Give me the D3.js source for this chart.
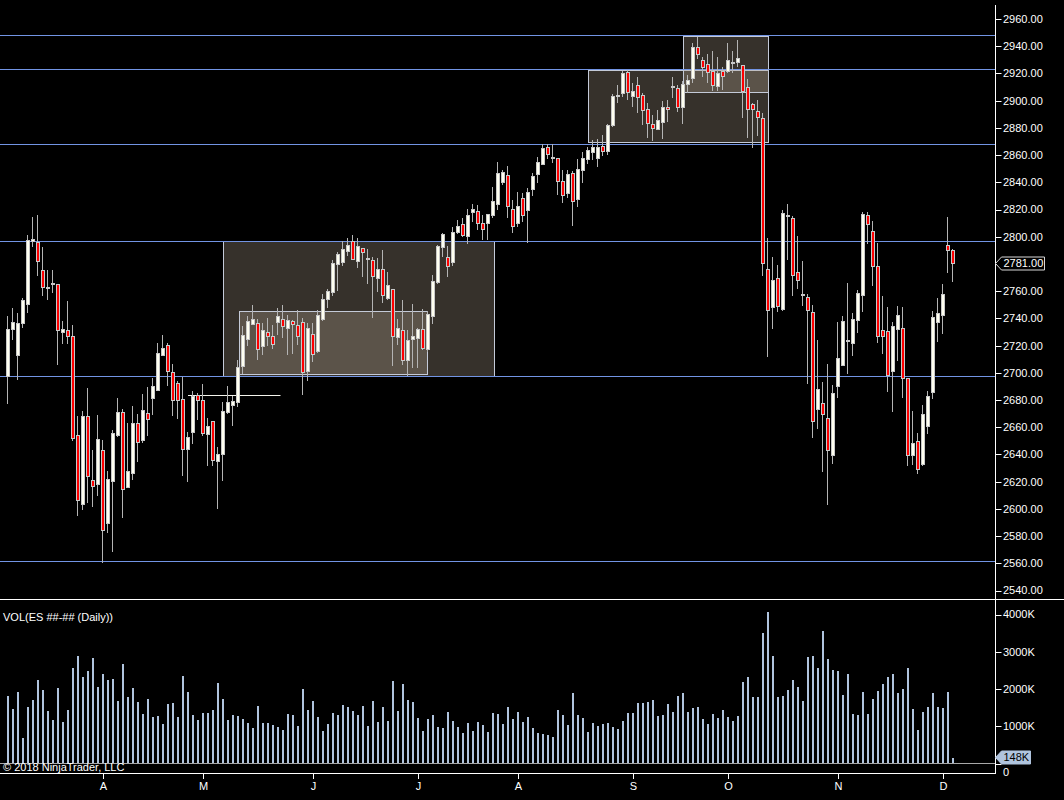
<!DOCTYPE html>
<html>
<head>
<meta charset="utf-8">
<script src="https://cdn.jsdelivr.net/npm/d3@7.9.0/dist/d3.min.js"></script>
<style>
  body { margin: 0; background: #000; }
  svg { display: block; font-family: "Liberation Sans", Arial, sans-serif; }
</style>
</head>
<body>
<svg id="chart" width="1064" height="800"></svg>
<script>
// daily ES bars, Mar -> Dec 2018
const opens = [2697.4,2732.5,2713.4,2736.7,2750.9,2797.0,2795.8,2775.9,2763.3,2766.3,
2764.9,2730.3,2731.8,2726.9,2654.5,2603.8,2668.5,2621.4,2618.5,2643.5,
2589.6,2620.7,2654.5,2671.4,2616.0,2626.6,2663.3,2650.8,2670.7,2681.7,
2687.6,2713.4,2720.7,2700.9,2692.3,2680.8,2644.2,2656.5,2683.9,2679.8,
2655.3,2664.3,2635.4,2640.5,2671.2,2676.6,2678.6,2704.8,2725.1,2736.1,
2736.9,2719.7,2730.3,2727.3,2737.4,2739.8,2733.2,2738.1,2735.2,2737.6,
2701.3,2728.8,2716.0,2739.6,2754.3,2759.4,2780.3,2781.5,2789.6,2796.9,
2782.2,2792.0,2784.6,2783.2,2770.0,2776.6,2755.0,2761.9,2726.3,2731.7,
2709.6,2724.9,2725.8,2732.5,2717.8,2742.0,2766.8,2792.5,2785.2,2781.5,
2803.1,2809.7,2800.6,2817.8,2819.0,2810.4,2810.2,2815.6,2824.4,2839.9,
2845.0,2820.7,2810.2,2828.8,2819.3,2835.2,2846.2,2853.6,2865.6,2858.7,
2857.5,2840.6,2831.8,2846.5,2827.4,2848.7,2856.8,2861.9,2858.2,2866.3,
2863.1,2882.0,2903.8,2905.3,2920.8,2903.3,2911.2,2903.8,2893.5,2882.5,
2878.8,2884.5,2895.0,2910.7,2909.0,2895.5,2912.2,2916.3,2939.1,2929.8,
2926.9,2922.0,2910.9,2922.0,2922.0,2928.6,2928.6,2926.2,2909.7,2897.5,
2892.1,2886.9,2776.3,2748.4,2770.0,2746.9,2816.3,2813.4,2774.1,2758.2,
2755.7,2745.0,2673.6,2677.8,2667.0,2639.3,2690.5,2705.5,2723.9,2722.2,
2739.1,2756.8,2815.9,2804.1,2778.8,2731.8,2731.0,2701.6,2732.0,2733.2,
2696.5,2639.8,2649.9,2633.2,2661.1,2685.9,2737.6,2742.1,2793.6,2789.9];

const highs = [2741.6,2747.9,2744.3,2754.6,2801.2,2814.6,2815.9,2792.1,2775.9,2775.4,
2764.9,2737.9,2752.6,2735.0,2668.0,2671.9,2688.6,2643.0,2668.8,2650.4,
2627.6,2658.2,2681.3,2673.2,2663.1,2675.4,2670.0,2684.2,2689.6,2696.5,
2722.2,2727.6,2722.2,2706.8,2693.8,2697.0,2656.5,2686.4,2685.2,2691.6,
2667.0,2664.3,2645.2,2678.6,2690.6,2682.7,2709.2,2734.5,2742.0,2750.1,
2739.8,2736.6,2740.6,2735.4,2747.9,2750.1,2742.8,2738.6,2746.4,2740.6,
2736.6,2736.9,2746.0,2758.2,2761.9,2783.2,2788.9,2796.9,2799.4,2801.1,
2798.7,2792.0,2791.3,2785.2,2784.0,2790.1,2774.1,2761.9,2739.8,2753.3,
2731.2,2750.4,2733.2,2746.7,2745.5,2771.7,2793.8,2802.8,2793.0,2806.8,
2812.2,2814.1,2820.7,2823.9,2823.2,2815.8,2817.0,2836.6,2854.6,2848.9,
2851.9,2826.9,2833.0,2831.8,2835.9,2846.5,2858.7,2868.0,2868.5,2868.0,
2857.5,2848.9,2848.9,2848.2,2856.8,2862.4,2865.6,2871.0,2871.5,2874.7,
2882.8,2904.6,2911.4,2921.7,2922.5,2912.7,2917.6,2905.3,2898.0,2889.4,
2893.1,2899.7,2900.4,2917.6,2911.4,2914.4,2918.6,2942.1,2947.0,2932.3,
2934.2,2936.5,2932.3,2924.9,2942.6,2936.5,2944.5,2926.2,2915.9,2898.0,
2900.4,2891.0,2798.7,2785.2,2779.1,2819.5,2824.4,2815.1,2800.4,2782.0,
2758.2,2750.1,2723.9,2693.2,2706.7,2690.8,2737.4,2741.5,2766.3,2744.0,
2761.1,2817.8,2817.8,2811.5,2795.5,2756.3,2748.2,2737.2,2748.9,2748.2,
2696.5,2671.7,2656.0,2676.1,2686.9,2745.2,2755.1,2765.1,2814.6,2791.3];

const lows = [2677.3,2723.9,2694.5,2733.0,2744.0,2792.6,2771.0,2756.3,2753.8,2758.7,
2705.8,2721.0,2721.5,2649.9,2594.7,2599.3,2604.3,2601.3,2609.4,2560.4,
2582.2,2568.2,2652.8,2593.2,2616.0,2620.9,2634.4,2648.4,2653.3,2668.8,
2687.1,2712.1,2690.3,2668.0,2665.8,2623.9,2619.7,2647.4,2665.6,2653.3,
2631.5,2631.5,2599.8,2620.4,2670.0,2660.9,2674.9,2699.4,2720.0,2734.9,
2709.2,2712.8,2719.5,2717.8,2727.6,2725.8,2712.8,2714.1,2720.2,2683.4,
2694.0,2707.9,2714.6,2737.9,2747.9,2756.2,2759.9,2778.6,2785.9,2782.7,
2777.1,2770.5,2765.6,2740.3,2759.4,2751.3,2753.3,2705.0,2720.2,2705.5,
2697.6,2703.5,2703.5,2716.5,2715.3,2735.7,2765.6,2785.2,2770.5,2778.6,
2801.9,2799.9,2794.5,2810.9,2805.3,2797.4,2797.4,2814.1,2819.5,2837.9,
2813.4,2802.8,2807.2,2810.9,2795.5,2829.8,2839.6,2853.1,2856.8,2854.3,
2830.5,2824.9,2828.1,2808.0,2822.0,2839.6,2853.8,2856.3,2850.9,2859.5,
2860.0,2880.8,2898.0,2902.9,2900.4,2895.5,2890.6,2882.0,2872.9,2870.2,
2878.3,2871.5,2884.5,2901.6,2891.8,2882.8,2905.8,2912.7,2930.3,2917.6,
2912.7,2907.3,2907.3,2907.8,2920.0,2920.0,2924.9,2886.9,2872.9,2865.3,
2873.9,2771.2,2711.6,2732.5,2744.7,2745.5,2782.7,2756.5,2761.4,2748.9,
2692.0,2652.3,2658.9,2627.0,2602.5,2632.7,2681.7,2704.7,2698.9,2712.1,
2729.3,2744.8,2795.0,2763.9,2721.9,2714.1,2685.9,2671.2,2708.7,2681.5,
2631.5,2632.0,2625.8,2631.2,2655.3,2680.5,2722.7,2728.3,2773.4,2766.8];

const closes = [2732.5,2737.4,2736.7,2753.3,2797.5,2798.0,2781.8,2762.7,2763.3,2764.9,
2731.8,2732.5,2726.9,2652.3,2606.7,2668.5,2624.4,2616.5,2651.6,2584.2,
2622.2,2656.0,2670.9,2614.8,2628.0,2663.3,2649.4,2672.9,2666.3,2690.6,
2714.8,2718.5,2701.6,2680.3,2680.3,2644.2,2653.1,2683.0,2680.3,2656.0,
2660.9,2636.1,2640.5,2671.7,2678.8,2679.0,2704.3,2727.6,2738.1,2739.6,
2717.8,2731.7,2727.3,2721.4,2741.8,2734.7,2739.1,2736.1,2726.8,2700.6,
2733.2,2714.1,2742.8,2754.5,2760.4,2781.0,2787.6,2791.3,2793.8,2783.7,
2793.5,2788.9,2784.6,2771.2,2776.6,2757.5,2764.3,2727.1,2733.2,2709.6,
2724.4,2726.8,2732.5,2718.5,2743.5,2767.5,2793.0,2801.9,2778.8,2803.1,
2808.0,2801.6,2816.3,2820.7,2810.4,2805.8,2817.0,2826.1,2846.5,2847.2,
2822.4,2808.2,2822.4,2815.6,2833.2,2844.5,2854.6,2864.9,2860.5,2858.7,
2841.3,2830.3,2846.0,2825.9,2849.4,2857.5,2863.6,2866.1,2866.1,2862.7,
2882.0,2903.3,2903.8,2920.0,2906.5,2907.0,2902.9,2892.8,2883.7,2879.6,
2885.5,2895.0,2893.5,2910.7,2895.5,2912.2,2915.1,2939.1,2934.0,2924.9,
2921.2,2911.4,2920.0,2918.3,2929.6,2928.6,2931.1,2907.3,2893.5,2893.5,
2888.2,2781.0,2745.9,2768.5,2748.9,2817.5,2816.3,2772.2,2768.0,2757.0,
2746.4,2664.3,2688.3,2669.4,2643.4,2685.4,2711.1,2737.8,2723.9,2739.3,
2758.9,2816.6,2809.0,2778.8,2727.3,2727.3,2698.7,2734.7,2742.8,2696.5,
2639.8,2648.6,2629.5,2670.0,2683.2,2741.3,2744.3,2758.2,2790.6,2781.0];

// volume in thousands of contracts
const volumes = [1818,1476,1908,693,1530,1692,2250,1962,1422,1179,
2016,1116,1440,2574,2898,2331,2475,2844,2061,2412,
2250,2277,1665,2664,1791,2034,1656,1332,1737,1251,
1278,1062,1602,1629,1251,2358,1926,1305,1170,1359,
1359,1440,2169,1737,1170,1305,1278,1197,1089,954,
1548,1089,1089,1035,981,900,1332,1305,1008,2007,
1440,1683,1251,873,1062,1359,1305,1575,1521,1413,
1305,1548,1008,1683,1116,1521,1143,2223,1413,2142,
1710,1656,1224,873,1197,1305,981,954,1386,1143,
981,819,1089,873,1116,1035,846,1359,1332,1062,
1521,1197,1386,1116,1251,954,819,792,765,711,
1440,1305,1035,1899,1305,1224,846,1089,1008,1062,
1089,981,927,1143,1359,1359,1629,1629,1656,1710,
1278,1305,1602,1386,1818,1899,1386,1494,1521,1197,
1062,1332,1224,1440,1251,1143,1278,2196,2331,1791,
1791,3492,4059,2898,1791,1818,1980,2250,2061,1683,
2871,2898,2574,3546,2817,2520,2493,1845,2412,1332,
1305,1926,1332,1737,1953,2142,2331,2412,1899,2007,
2574,1467,900,1386,1521,1899,1521,1494,1926,148];

const monthTicks = [19, 39, 61, 82, 102, 125, 144, 166, 187];
const monthLabels = ['A', 'M', 'J', 'J', 'A', 'S', 'O', 'N', 'D'];
const priceTicks = d3.range(2540, 2961, 20);
const volumeTicks = [0, 1000, 2000, 3000, 4000];

// drawing objects: horizontal levels, boxes and one short line
const levels = [2948, 2923, 2868.1, 2796.7, 2697.4, 2561.7];
const zoneStart = [43, 46.2, 116, 135];
const zoneEnd = [97.2, 83.7, 152, 152];
const zoneTop = [2796.9, 2745.2, 2922.5, 2947.5];
const zoneBottom = [2697.4, 2698.6, 2869.7, 2906.1];
const segStart = 36, segEnd = 54.5, segPrice = 2683.4;

const axisX = 995.5;
const bars = opens.map((o, i) => ({ i, o, h: highs[i], l: lows[i], c: closes[i], v: volumes[i] }));

const x = d3.scaleLinear().domain([0, bars.length - 1]).range([8, 953]);
const y = d3.scaleLinear().domain([2540, 2960]).range([590.5, 19]);
const yv = d3.scaleLinear().domain([0, 4000]).range([763.5, 614.5]);

const svg = d3.select('#chart');
svg.append('rect').attr('width', 1064).attr('height', 800).attr('fill', '#000');

// boxes sit behind everything
svg.append('g').selectAll('rect')
  .data(zoneStart)
  .join('rect')
  .attr('x', (d, k) => Math.round(x(d)) + 0.5)
  .attr('y', (d, k) => Math.round(y(zoneTop[k])) + 0.5)
  .attr('width', (d, k) => Math.round(x(zoneEnd[k]) - x(d)))
  .attr('height', (d, k) => Math.round(y(zoneBottom[k]) - y(zoneTop[k])))
  .attr('fill', '#b4a290')
  .attr('fill-opacity', 0.3)
  .attr('stroke', '#c4cad8')
  .attr('stroke-width', 1);

svg.append('g').selectAll('line')
  .data(levels)
  .join('line')
  .attr('x1', 0).attr('x2', axisX)
  .attr('y1', d => Math.round(y(d)) + 0.5)
  .attr('y2', d => Math.round(y(d)) + 0.5)
  .attr('stroke', '#7294e4');

svg.append('line')
  .attr('x1', x(segStart)).attr('x2', x(segEnd))
  .attr('y1', Math.round(y(segPrice)) + 0.5).attr('y2', Math.round(y(segPrice)) + 0.5)
  .attr('stroke', '#f4f4ec');

// candles
const candles = svg.append('g').attr('shape-rendering', 'crispEdges');
candles.selectAll('line')
  .data(bars)
  .join('line')
  .attr('x1', d => x(d.i) - 0.5).attr('x2', d => x(d.i) - 0.5)
  .attr('y1', d => Math.round(y(d.h)))
  .attr('y2', d => Math.round(y(d.l)))
  .attr('stroke', '#b4b4b4');

candles.selectAll('rect')
  .data(bars)
  .join('rect')
  .attr('x', d => x(d.i) - 1.5)
  .attr('y', d => Math.round(y(Math.max(d.o, d.c))) + 0.5)
  .attr('width', 3)
  .attr('height', d => Math.max(1, Math.round(y(Math.min(d.o, d.c))) - Math.round(y(Math.max(d.o, d.c)))))
  .attr('fill', d => d.c >= d.o ? '#fffff0' : '#ff0000')
  .attr('stroke', '#c8c8c8');

// volume panel
svg.append('g').attr('shape-rendering', 'crispEdges')
  .selectAll('rect')
  .data(bars)
  .join('rect')
  .attr('x', d => x(d.i) - 1)
  .attr('y', d => yv(d.v))
  .attr('width', 2)
  .attr('height', d => yv(0) - yv(d.v))
  .attr('fill', '#b0c4de');

svg.append('line')
  .attr('x1', 0).attr('x2', axisX).attr('y1', 763.5).attr('y2', 763.5)
  .attr('stroke', '#a8a8a8');

svg.append('text')
  .attr('x', 3).attr('y', 621)
  .attr('fill', '#fff').attr('font-size', 11)
  .text('VOL(ES ##-## (Daily))');

svg.append('text')
  .attr('x', 3).attr('y', 770.5)
  .attr('fill', '#fff').attr('font-size', 11)
  .text('© 2018 NinjaTrader, LLC');

// frame and axes
const frame = svg.append('g').attr('stroke', '#fff').attr('shape-rendering', 'crispEdges');
frame.append('line').attr('x1', axisX).attr('x2', axisX).attr('y1', 5).attr('y2', 773.5);
frame.append('line').attr('x1', 0).attr('x2', 1064).attr('y1', 599.5).attr('y2', 599.5);
frame.append('line').attr('x1', 0).attr('x2', axisX).attr('y1', 773.5).attr('y2', 773.5);

const priceAxis = svg.append('g');
priceAxis.selectAll('line')
  .data(priceTicks)
  .join('line')
  .attr('x1', axisX).attr('x2', axisX + 6)
  .attr('y1', d => Math.round(y(d)) + 0.5).attr('y2', d => Math.round(y(d)) + 0.5)
  .attr('stroke', '#fff');
priceAxis.selectAll('text')
  .data(priceTicks)
  .join('text')
  .attr('x', axisX + 7.5)
  .attr('y', d => y(d))
  .attr('dy', '0.36em')
  .attr('fill', '#fff').attr('font-size', 11)
  .text(d => d.toFixed(2));

const volAxis = svg.append('g');
volAxis.selectAll('line')
  .data(volumeTicks)
  .join('line')
  .attr('x1', axisX).attr('x2', axisX + 6)
  .attr('y1', d => Math.round(yv(d)) + 0.5).attr('y2', d => Math.round(yv(d)) + 0.5)
  .attr('stroke', '#fff');
// the "0" label peeks out just below the last-volume marker
volAxis.selectAll('text')
  .data(volumeTicks)
  .join('text')
  .attr('x', axisX + 7.5)
  .attr('y', d => d === 0 ? yv(d) + 8.5 : yv(d))
  .attr('dy', '0.36em')
  .attr('fill', '#fff').attr('font-size', 11)
  .text(d => d === 0 ? '0' : d + 'K');

const timeAxis = svg.append('g');
timeAxis.selectAll('line')
  .data(monthTicks)
  .join('line')
  .attr('x1', d => x(d) + 0.5).attr('x2', d => x(d) + 0.5)
  .attr('y1', 773.5).attr('y2', 779)
  .attr('stroke', '#fff');
timeAxis.selectAll('text')
  .data(monthTicks)
  .join('text')
  .attr('x', d => x(d) + 0.5)
  .attr('y', 790)
  .attr('text-anchor', 'middle')
  .attr('fill', '#fff').attr('font-size', 11)
  .text((d, k) => monthLabels[k]);

// last value markers on the axis
const last = bars[bars.length - 1];
function marker(cy, w, fill, stroke, color, label) {
  const g = svg.append('g');
  g.append('path')
    .attr('d', `M${axisX},${cy} L${axisX + 6},${cy - 6.5} L${axisX + w},${cy - 6.5} L${axisX + w},${cy + 6.5} L${axisX + 6},${cy + 6.5} Z`)
    .attr('fill', fill)
    .attr('stroke', stroke);
  g.append('text')
    .attr('x', axisX + 8).attr('y', cy).attr('dy', '0.36em')
    .attr('fill', color).attr('font-size', 11)
    .text(label);
}
marker(Math.round(y(last.c)) + 0.5, 49, '#000', '#d8d8d8', '#fff', last.c.toFixed(2));
marker(Math.round(yv(last.v)) - 0.5, 35, '#b0c4de', '#b0c4de', '#000', last.v + 'K');
</script>
</body>
</html>
